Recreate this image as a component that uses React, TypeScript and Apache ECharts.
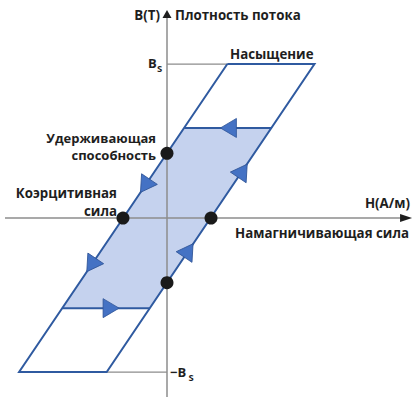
import React, { useEffect, useRef } from "react";
import * as echarts from "echarts";

// Hysteresis loop vertices [H, B] (H in units of coercive force, B in units of Bs)
const outerLoop: [number, number][] = [
  [1.37, 1],
  [3.35, 1],
  [-1.37, -1],
  [-3.36, -1],
];
const innerBand: [number, number][] = [
  [0.39, 0.585],
  [2.37, 0.585],
  [-0.39, -0.585],
  [-2.38, -0.585],
];
const keyPoints: [number, number][] = [
  [0, 0.42],
  [-1, 0],
  [1, 0],
  [0, -0.42],
];
const saturationGuides: [number, number][][] = [
  [[0, 1], [1.37, 1]],
  [[-1.37, -1], [0, -1]],
];
const dirArrowPoints: [number, number][] = [
  [1.395, 0.585],
  [-0.5, 0.21],
  [-1.72, -0.305],
  [-1.27, -0.585],
  [0.49, -0.21],
  [1.72, 0.307],
];
const dirArrowHeadings = ["left", "downLeft", "downLeft", "right", "upRight", "upRight"];
const hAxisExtent: [number, number][] = [[-3.68, 0], [5.35, 0]];
const bAxisExtent: [number, number][] = [[0, -1.162], [0, 1.3]];
const axisArrowPoints: [number, number][] = [[5.43, 0], [0, 1.325]];

const rotationOf: Record<string, number> = {
  left: 90,
  right: -90,
  upRight: -34,
  downLeft: 146,
  up: 0,
};

const BLUE = "#2f5aa0";
const FILL = "#c5d2ee";
const TRI = "#4472c4";
const GRAY = "#8c8c8c";
const TXT = "#1e1e1e";
const FONT = "'Open Sans', sans-serif";

export default function App() {
  const ref = useRef<HTMLDivElement>(null);
  useEffect(() => {
    if (!ref.current) return;
    const chart = echarts.init(ref.current, undefined, { renderer: "svg" });
    const txt = (
      text: string,
      x: number,
      y: number,
      align: string = "left",
      size = 13.3,
      lineHeight?: number
    ) => ({
      type: "text",
      x,
      y,
      style: {
        text,
        fill: TXT,
        font: `bold ${size}px ${FONT}`,
        textAlign: align,
        textVerticalAlign: "middle",
        ...(lineHeight ? { lineHeight } : {}),
      },
    });
    chart.setOption({
      animation: false,
      backgroundColor: "#ffffff",
      grid: { left: 5, right: 9, top: 10, bottom: 5 },
      xAxis: { type: "value", min: -3.68, max: 5.52, show: false },
      yAxis: { type: "value", min: -1.162, max: 1.351, show: false },
      series: [
        {
          type: "custom",
          z: 1,
          silent: true,
          data: innerBand,
          encode: { x: 0, y: 1 },
          renderItem: (params: any, api: any) => {
            if (params.dataIndex !== 0) return null;
            const pts = innerBand.map((p) => api.coord(p));
            return { type: "polygon", shape: { points: pts }, style: { fill: FILL } };
          },
        },
        ...saturationGuides.map((seg) => ({
          type: "line",
          z: 2,
          silent: true,
          data: seg,
          showSymbol: false,
          lineStyle: { color: GRAY, width: 1.2 },
        })),
        {
          type: "line",
          z: 3,
          silent: true,
          data: hAxisExtent,
          showSymbol: false,
          lineStyle: { color: GRAY, width: 1.5 },
        },
        {
          type: "line",
          z: 3,
          silent: true,
          data: bAxisExtent,
          showSymbol: false,
          lineStyle: { color: GRAY, width: 1.5 },
        },
        {
          type: "line",
          z: 4,
          silent: true,
          data: [...outerLoop, outerLoop[0]],
          showSymbol: false,
          lineStyle: { color: BLUE, width: 2, join: "miter" },
        },
        {
          type: "line",
          z: 4,
          silent: true,
          data: [innerBand[0], innerBand[1]],
          showSymbol: false,
          lineStyle: { color: BLUE, width: 2 },
        },
        {
          type: "line",
          z: 4,
          silent: true,
          data: [innerBand[2], innerBand[3]],
          showSymbol: false,
          lineStyle: { color: BLUE, width: 2 },
        },
        {
          type: "scatter",
          z: 5,
          silent: true,
          symbol: "triangle",
          symbolSize: [19, 16],
          data: dirArrowPoints.map((p, i) => ({
            value: p,
            symbolRotate: rotationOf[dirArrowHeadings[i]],
          })),
          itemStyle: { color: TRI, borderColor: "#2f5597", borderWidth: 0.8, opacity: 1 },
        },
        {
          type: "scatter",
          z: 6,
          silent: true,
          symbol: "triangle",
          data: [
            { value: axisArrowPoints[0], symbolSize: [8, 12], symbolRotate: rotationOf.right },
            { value: axisArrowPoints[1], symbolSize: [9, 8], symbolRotate: rotationOf.up },
          ],
          itemStyle: { color: "#1e1e1e", opacity: 1 },
        },
        {
          type: "scatter",
          z: 6,
          silent: true,
          symbol: "circle",
          symbolSize: 13,
          data: keyPoints,
          itemStyle: { color: "#1a1a1a", opacity: 1 },
        },
      ],
      graphic: [
        txt("B(T)", 160, 15, "right"),
        txt("Плотность потока", 175, 15),
        txt("Насыщение", 230, 54),
        txt("B", 148, 63, "left", 13),
        txt("S", 157, 68, "left", 9.5),
        txt("−B", 170, 371.5, "left", 13),
        txt("S", 188.5, 377, "left", 9.5),
        txt("Удерживающая\nспособность", 156, 146.5, "right", 13, 17),
        txt("Коэрцитивная\nсила", 117, 202, "right", 13.3, 18),
        txt("H(А/м)", 410, 203, "right"),
        txt("Намагничивающая сила", 409, 233, "right"),
      ],
    });
    return () => chart.dispose();
  }, []);
  return (
    <div
      ref={ref}
      style={{ position: "fixed", left: 0, top: 0, width: 419, height: 402 }}
    />
  );
}
